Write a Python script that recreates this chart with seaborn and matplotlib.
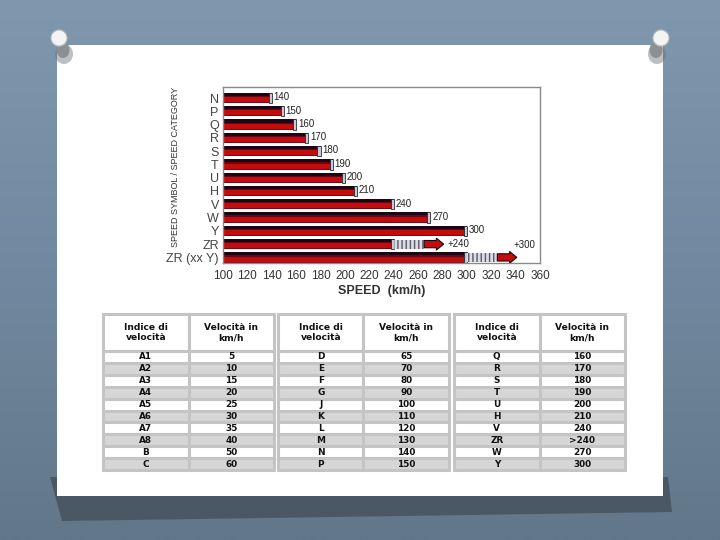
import numpy as np
import matplotlib
matplotlib.use("Agg")
import matplotlib.pyplot as plt
from matplotlib.patches import Rectangle, FancyArrow, Polygon, Ellipse, Circle
from matplotlib.colors import LinearSegmentedColormap
import seaborn as sns

# chart data
symbols = ["N", "P", "Q", "R", "S", "T", "U", "H", "V", "W", "Y", "ZR", "ZR (xx Y)"]
speeds = [140, 150, 160, 170, 180, 190, 200, 210, 240, 270, 300, 240, 300]
bar_labels = ["140", "150", "160", "170", "180", "190", "200", "210", "240", "270", "300", "+240", "+300"]
spring = [0, 0, 0, 0, 0, 0, 0, 0, 0, 0, 0, 25, 25]
arrow_len = [0, 0, 0, 0, 0, 0, 0, 0, 0, 0, 0, 16, 16]
x_ticks = [100, 120, 140, 160, 180, 200, 220, 240, 260, 280, 300, 320, 340, 360]

# table data
header = ["Indice di\nvelocità", "Velocità in\nkm/h"]
t1_index = ["A1", "A2", "A3", "A4", "A5", "A6", "A7", "A8", "B", "C"]
t1_kmh = ["5", "10", "15", "20", "25", "30", "35", "40", "50", "60"]
t2_index = ["D", "E", "F", "G", "J", "K", "L", "M", "N", "P"]
t2_kmh = ["65", "70", "80", "90", "100", "110", "120", "130", "140", "150"]
t3_index = ["Q", "R", "S", "T", "U", "H", "V", "ZR", "W", "Y"]
t3_kmh = ["160", "170", "180", "190", "200", "210", "240", ">240", "270", "300"]

sns.set_style("white")
plt.rcParams["font.family"] = ["Liberation Sans", "DejaVu Sans"]
plt.rcParams["hatch.linewidth"] = 1.0

RED = "#c40c0c"
DARK = "#1c0614"

fig = plt.figure(figsize=(7.2, 5.4), dpi=100)

# slide background, card and pins (pixel coords)
bg = fig.add_axes([0, 0, 1, 1], zorder=0)
bg.set_xlim(0, 720)
bg.set_ylim(540, 0)
bg.axis("off")
cmap = LinearSegmentedColormap.from_list("bg", ["#7f98ad", "#7189a0", "#627789"])
grad = np.linspace(0, 1, 256).reshape(-1, 1)
bg.imshow(grad, cmap=cmap, extent=[0, 720, 540, 0], aspect="auto")
bg.add_patch(Polygon([(50, 477), (668, 477), (672, 512), (62, 521)], closed=True,
                     facecolor="#46535f", edgecolor="none", alpha=0.85))
bg.add_patch(Rectangle((57, 45), 606, 451, facecolor="white", edgecolor="none"))
for cx, cy, sx, sy in [(59, 38, 63, 50), (661, 38, 656, 50)]:
    bg.add_patch(Ellipse((sx + 1, sy + 4), 18, 20, facecolor="#6e7276", edgecolor="none", alpha=0.45))
    bg.add_patch(Ellipse((sx, sy), 13, 16, facecolor="#8c9094", edgecolor="none"))
    bg.add_patch(Circle((cx, cy), 8, facecolor="#f4f4f4", edgecolor="#b8bcc0", lw=0.8))

# bar chart
ax = fig.add_axes([0.3097, 0.5130, 0.4403, 0.3259], zorder=2)
sns.barplot(x=speeds, y=symbols, color=RED, saturation=1, width=0.78,
            edgecolor="none", ax=ax)

for i, p in enumerate(list(ax.patches)):
    w = p.get_width()
    y = p.get_y()
    h = p.get_height()
    yc = y + h / 2
    ax.add_patch(Rectangle((0, y), w, h * 0.3, facecolor=DARK, edgecolor="none"))
    ax.add_patch(Rectangle((0, y + h * 0.3), w, h * 0.12, facecolor="#6a0612", edgecolor="none"))
    ax.add_patch(Rectangle((0, y + h * 0.9), w, h * 0.1, facecolor="#7a0810", edgecolor="none"))
    ax.add_patch(Rectangle((w - 2.5, y), 2.5, h, facecolor="#c8c8d2", edgecolor="#2a2a3a", lw=0.6))
    if spring[i]:
        ax.barh(yc, spring[i], left=w, height=h * 0.85, color="#dcdce4",
                hatch="||||", edgecolor="#5a5a6a", lw=0)
        end = w + spring[i]
        ax.add_patch(FancyArrow(end, yc, arrow_len[i], 0, width=h * 0.7, head_width=h * 1.15,
                                head_length=6, length_includes_head=True,
                                facecolor=RED, edgecolor=DARK, lw=0.8))
        if i == len(speeds) - 1:
            ax.text(end + arrow_len[i] + 6, yc - 0.9, bar_labels[i], fontsize=7, color="#222222",
                    ha="center", va="center")
        else:
            ax.text(end + arrow_len[i] + 3, yc, bar_labels[i], fontsize=7, color="#222222",
                    ha="left", va="center")
    else:
        ax.text(w + 1.5, yc - 0.05, bar_labels[i], fontsize=7, color="#222222",
                ha="left", va="center")

ax.set_xlim(100, 360)
ax.set_ylim(12.42, -0.83)
ax.set_xticks(x_ticks)
ax.set_xticklabels([str(t) for t in x_ticks], fontsize=8.5, color="#333333")
ax.tick_params(axis="x", direction="in", length=4, width=0.8, color="#555555", pad=5)
ax.tick_params(axis="y", length=0, labelsize=9, labelcolor="#444444", pad=3)
ax.set_xlabel("SPEED  (km/h)", fontsize=9, fontweight="bold", color="#333333", labelpad=2)
ax.set_ylabel("SPEED SYMBOL / SPEED CATEGORY", fontsize=6.5, color="#333333")
ax.yaxis.set_label_coords(-0.136, 0.545)
for s in ax.spines.values():
    s.set_visible(True)
    s.set_color("#8a8a8a")
    s.set_linewidth(1)
ax.set_facecolor("white")


def draw_table(left, idx, kmh):
    tax = fig.add_axes([left, 0.1296, 0.2375, 0.2889], zorder=2)
    tax.axis("off")
    tb = tax.table(cellText=[list(r) for r in zip(idx, kmh)], colLabels=header,
                   cellLoc="center", bbox=[0, 0, 1, 1])
    tb.auto_set_font_size(False)
    for (r, c), cell in tb.get_celld().items():
        cell.set_edgecolor("#c4c4c4")
        cell.set_linewidth(2.2)
        cell.set_width(0.5)
        txt = cell.get_text()
        txt.set_fontweight("bold")
        txt.set_family("DejaVu Sans")
        txt.set_color("#111111")
        if r == 0:
            cell.set_height(37)
            cell.set_facecolor("white")
            txt.set_fontsize(6.6)
        else:
            cell.set_height(11.9)
            cell.set_facecolor("#d6d6d6" if r % 2 == 0 else "white")
            txt.set_fontsize(6.4)


draw_table(0.1431, t1_index, t1_kmh)
draw_table(0.3861, t2_index, t2_kmh)
draw_table(0.6306, t3_index, t3_kmh)

fig.savefig("out.png", dpi=100)
